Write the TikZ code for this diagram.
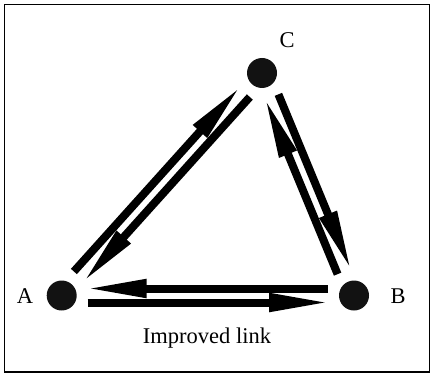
\documentclass[tikz,border=0pt]{standalone}
\usepackage{fontspec}
\setmainfont{Liberation Serif}
\usetikzlibrary{arrows.meta,calc}
\begin{document}
\begin{tikzpicture}[x=1pt,y=-1pt,
  dot/.style={circle,fill=black!93,inner sep=0pt,minimum size=30pt},
  lbl/.style={inner sep=0pt,font=\fontsize{22.5}{26}\selectfont},
  arr/.style={line width=8pt,-{Triangle[length=62pt,width=17pt]},
    shorten <=26pt,shorten >=23pt}]
\useasboundingbox (0,0) rectangle (430,374);
\draw[line width=1.6pt] (4.5,4.5) rectangle (429.5,372);
\node[dot] (A) at (61.7,295.5) {};
\node[dot] (B) at (354,295.5) {};
\node[dot] (C) at (262,73) {};
\node[lbl] (la) at (25,296) {A};
\node[lbl] (lb) at (398,296) {B};
\node[lbl] (lc) at (287,40) {C};
\node[lbl] (ll) at (207,338) {Improved link};
% A-B pair
\draw[arr] ($(A)!7pt!-90:(B)$) -- ($(B)!7pt!90:(A)$);
\draw[arr] ($(B)!7pt!-90:(A)$) -- ($(A)!7pt!90:(B)$);
% A-C pair
\draw[arr] ($(A)!7pt!90:(C)$) -- ($(C)!7pt!-90:(A)$);
\draw[arr] ($(C)!7pt!90:(A)$) -- ($(A)!7pt!-90:(C)$);
% B-C pair
\draw[arr] ($(C)!7pt!90:(B)$) -- ($(B)!7pt!-90:(C)$);
\draw[arr] ($(B)!7pt!90:(C)$) -- ($(C)!7pt!-90:(B)$);
\end{tikzpicture}
\end{document}
